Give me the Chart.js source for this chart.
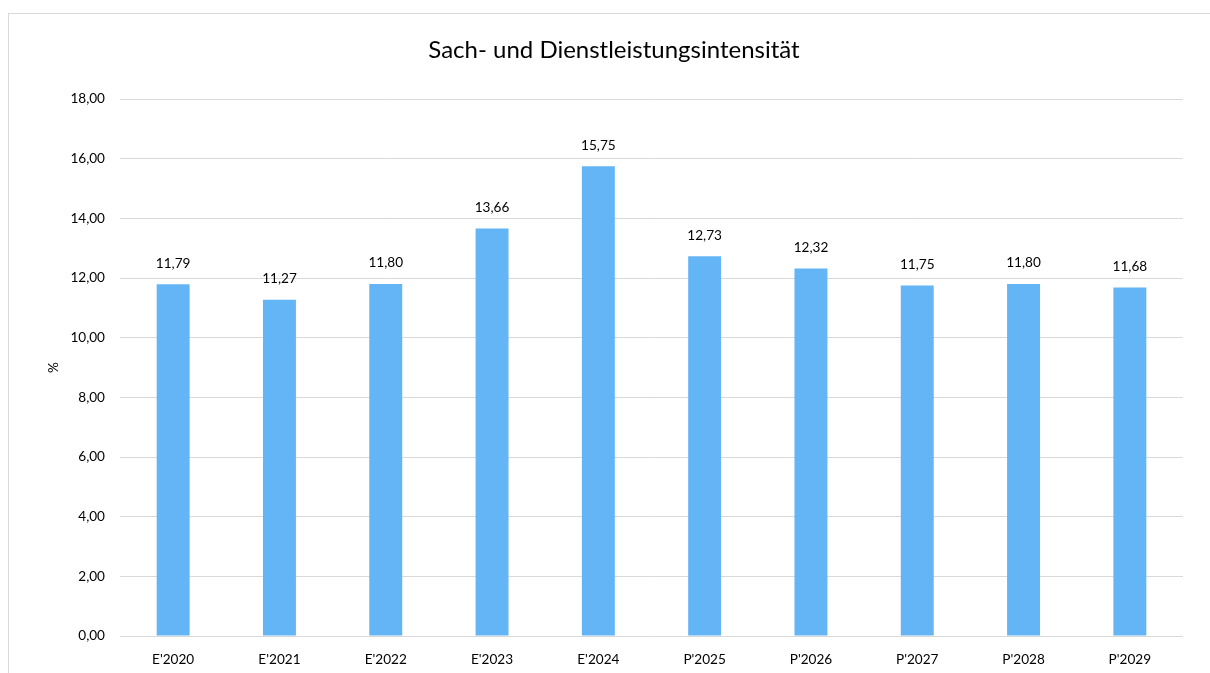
<!DOCTYPE html>
<html lang="de">
<head>
<meta charset="utf-8">
<title>Sach- und Dienstleistungsintensität</title>
<script src="https://cdn.jsdelivr.net/npm/chart.js@4.4.1/dist/chart.umd.min.js"></script>
<style>
  html, body { margin: 0; padding: 0; background: #fff; overflow: hidden; }
  #wrap { position: relative; width: 1210px; height: 673px; overflow: hidden; }
  #frame { position: absolute; left: 8px; top: 13px; width: 1300px; height: 800px; border: 1px solid #d9d9d9; box-sizing: border-box; pointer-events: none; }
  canvas { position: absolute; left: 0; top: 0; }
</style>
</head>
<body>
<div id="wrap">
  <canvas id="chart" width="1210" height="673"></canvas>
  <div id="frame"></div>
</div>
<script>
'use strict';

// Data
const years = ["E'2020", "E'2021", "E'2022", "E'2023", "E'2024", "P'2025", "P'2026", "P'2027", "P'2028", "P'2029"];
const intensity = [11.79, 11.27, 11.80, 13.66, 15.75, 12.73, 12.32, 11.75, 11.80, 11.68];
const yTicks = [0, 2, 4, 6, 8, 10, 12, 14, 16, 18];

const FONT = 'Lato, "Liberation Sans", sans-serif';
function fmt(v) { return v.toFixed(2).replace('.', ','); }

// value labels above bars
const barLabels = {
  id: 'barLabels',
  afterDatasetsDraw(chart) {
    const ctx = chart.ctx;
    const meta = chart.getDatasetMeta(0);
    ctx.save();
    ctx.font = '13.6px ' + FONT;
    ctx.fillStyle = '#000';
    ctx.textAlign = 'center';
    ctx.textBaseline = 'middle';
    meta.data.forEach((bar, i) => {
      ctx.fillText(fmt(intensity[i]), bar.x, bar.y - 21);
    });
    ctx.restore();
  }
};

new Chart(document.getElementById('chart'), {
  type: 'bar',
  data: {
    labels: years,
    datasets: [{
      data: intensity,
      backgroundColor: '#64B5F6',
      borderWidth: 0,
      categoryPercentage: 1,
      barPercentage: 0.31
    }]
  },
  options: {
    responsive: false,
    animation: false,
    layout: { padding: { left: 45, right: 27, top: 0, bottom: 0 } },
    plugins: {
      legend: { display: false },
      tooltip: { enabled: false },
      title: {
        display: true,
        text: 'Sach- und Dienstleistungsintensität',
        color: '#000',
        font: { family: FONT, size: 24, weight: 'normal' },
        padding: { top: 36, bottom: 34.2 }
      }
    },
    scales: {
      x: {
        grid: { display: false },
        border: { display: false },
        ticks: { color: '#000', font: { family: FONT, size: 13.6 }, padding: 7, maxRotation: 0 },
        afterFit(scale) { scale.height = 37; }
      },
      y: {
        min: 0,
        max: 18,
        afterBuildTicks(scale) { scale.ticks = yTicks.map(v => ({ value: v })); },
        grid: { color: '#d9d9d9', lineWidth: 1, drawTicks: false },
        border: { display: false },
        ticks: {
          color: '#000',
          font: { family: FONT, size: 13.6 },
          padding: 15,
          callback: v => fmt(v)
        },
        title: {
          display: true,
          text: '%',
          color: '#000',
          font: { family: FONT, size: 13.6 },
          padding: { top: 0, bottom: 0 }
        },
        afterFit(scale) { scale.width = 75; }
      }
    }
  },
  plugins: [barLabels]
});
</script>
</body>
</html>
